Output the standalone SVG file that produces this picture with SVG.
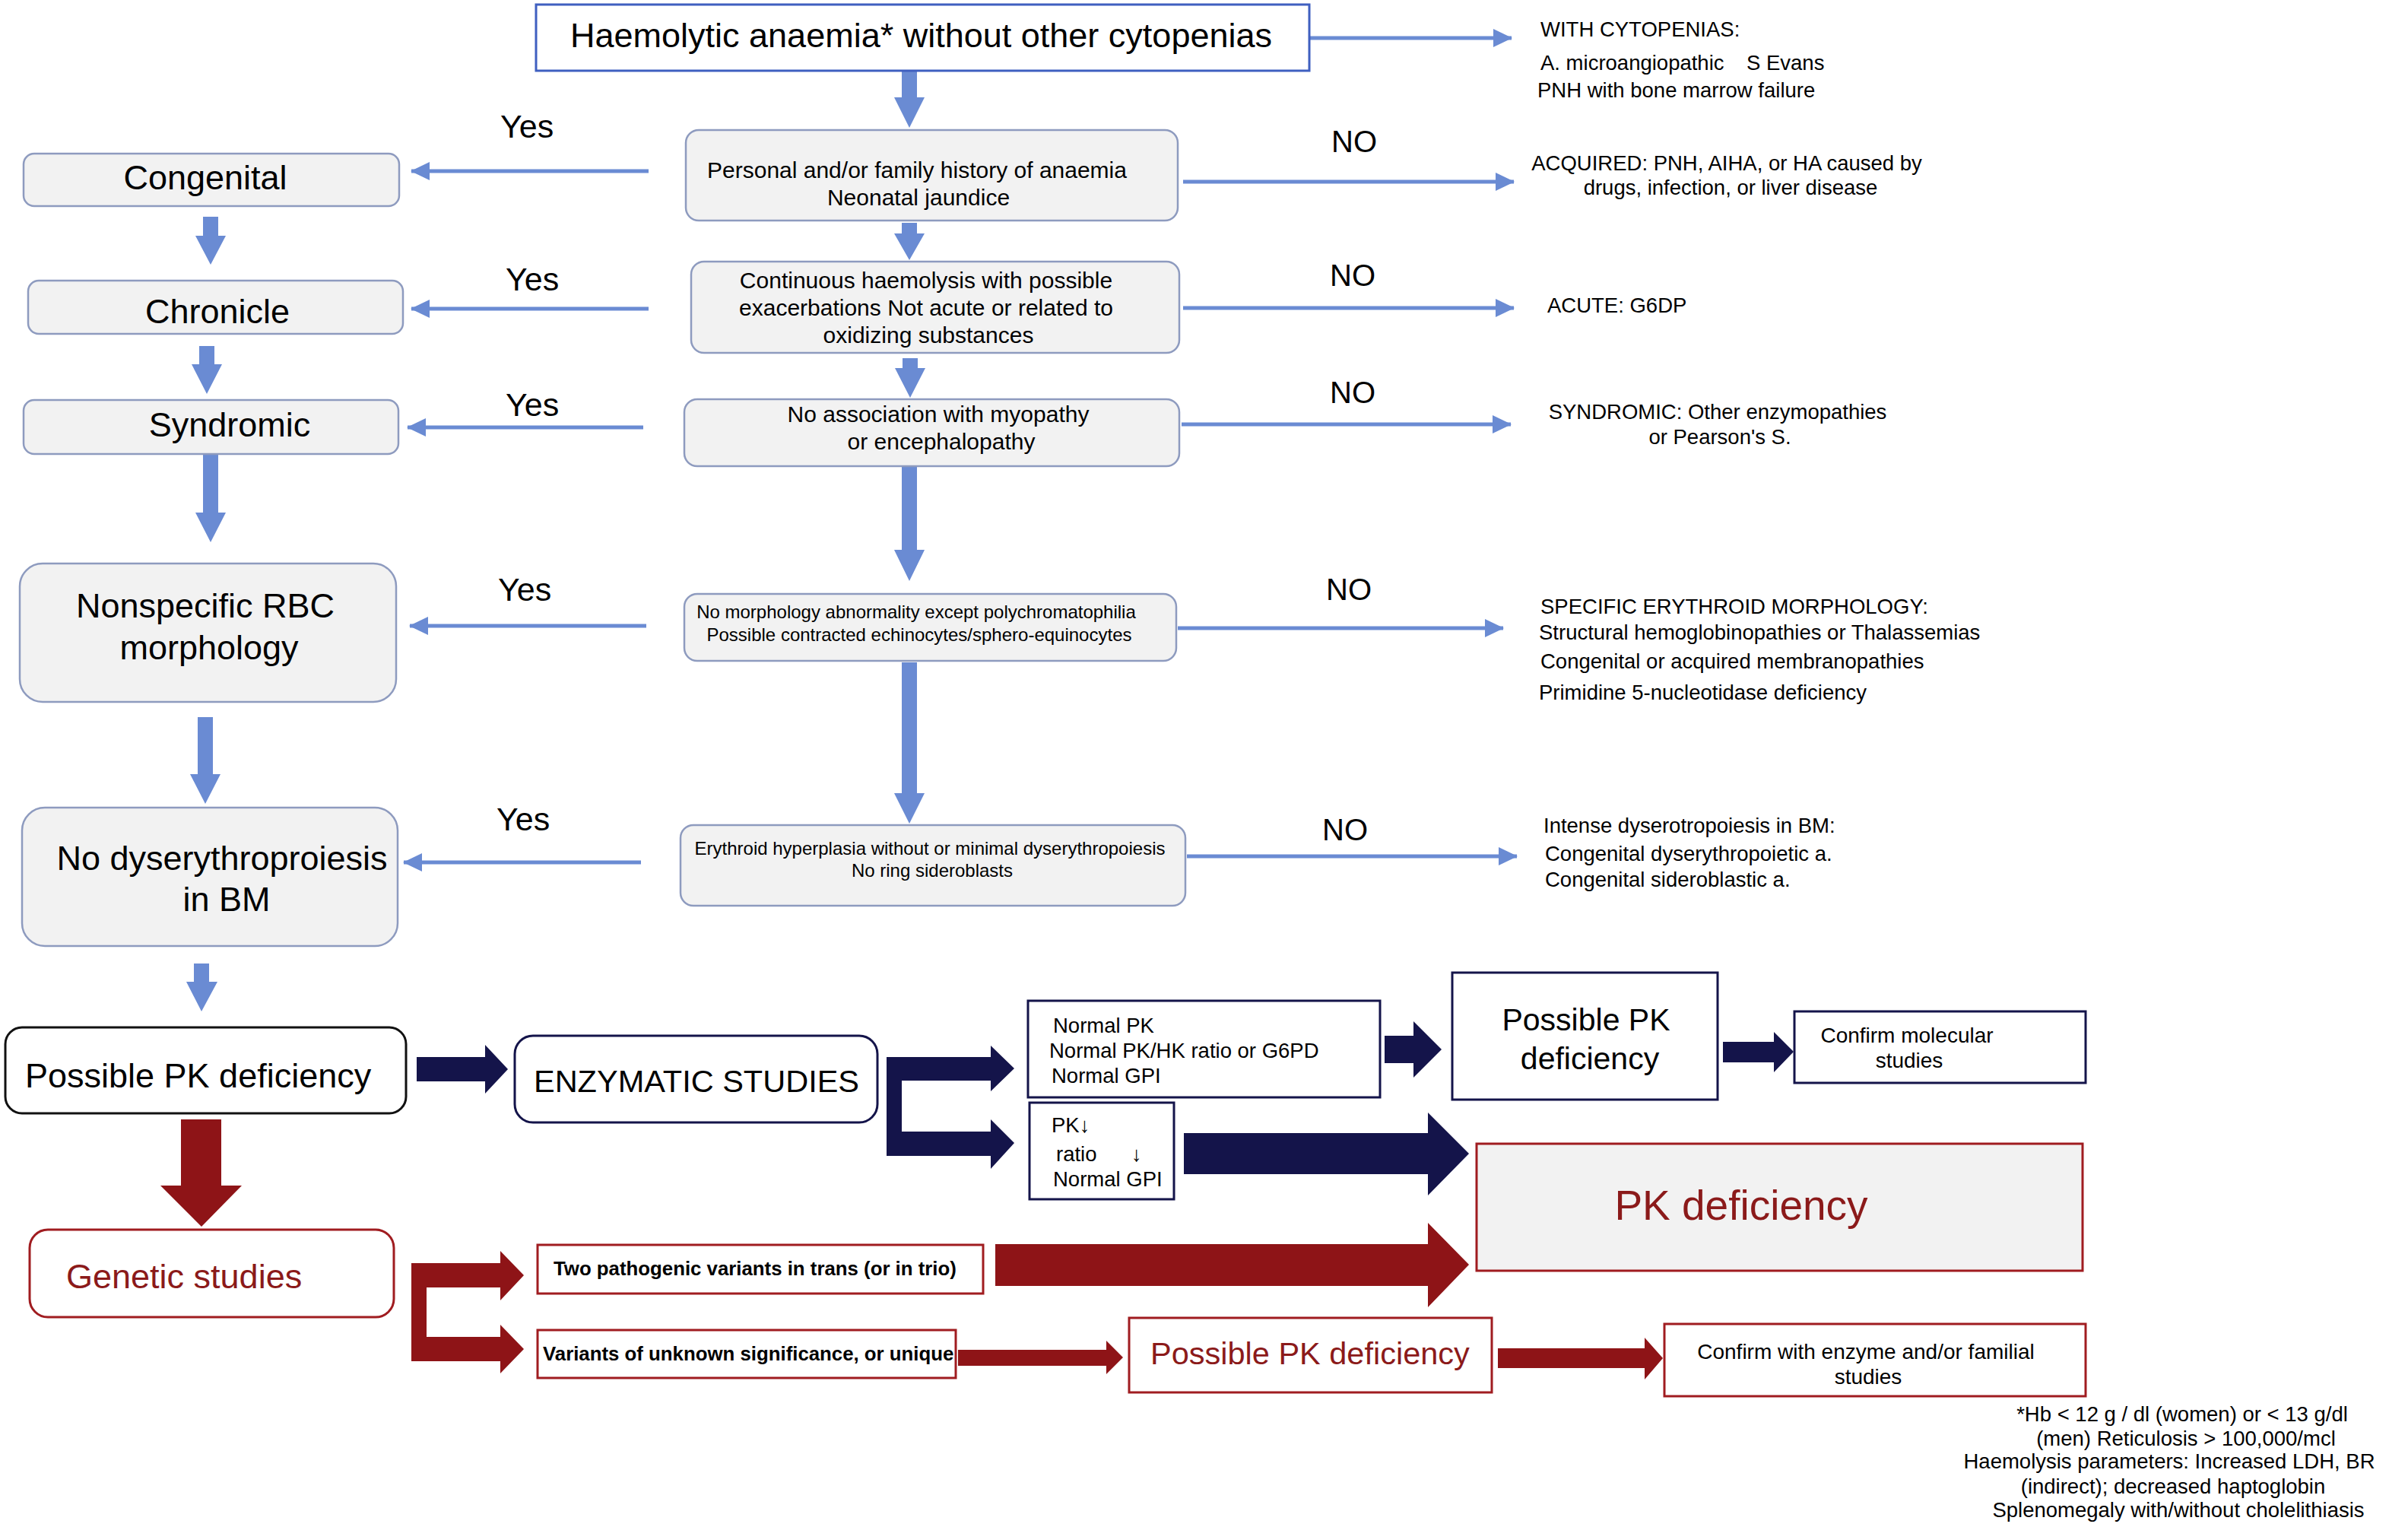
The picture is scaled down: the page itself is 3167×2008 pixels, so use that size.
<svg xmlns="http://www.w3.org/2000/svg" width="3167" height="2008" viewBox="0 0 3167 2008">
<style>
text{font-family:"Liberation Sans",Arial,sans-serif;fill:#000}
.big{font-size:45px}
.mid{font-size:30px}
.sm{font-size:24px}
.rt{font-size:27.5px}
.yes{font-size:43px}
.no{font-size:40px}
.bold{font-size:25.8px;font-weight:bold}
.red{fill:#8b1a1a}
.c{text-anchor:middle}
.gbox{fill:#f2f2f2;stroke:#8e9bbf;stroke-width:2.5}
.nbox{fill:#fff;stroke:#14144a;stroke-width:3}
.rbox{fill:#fff;stroke:#a01c20;stroke-width:3}
.bl{stroke:#6a8bd3;stroke-width:5;fill:none}
.blf{fill:#6a8bd3}
.nv{fill:#14144a}
.rd{fill:#8e1417}
</style>
<defs>
<marker id="ah" markerUnits="userSpaceOnUse" markerWidth="26" markerHeight="26" viewBox="0 0 26 26" refX="24" refY="13" orient="auto">
<path d="M0,1 L25,13 L0,25 Z" fill="#6a8bd3"/>
</marker>
</defs>

<g id="connectors">
<!-- thin right arrows -->
<line class="bl" x1="1722" y1="50" x2="1988" y2="50" marker-end="url(#ah)"/>
<line class="bl" x1="1556" y1="239" x2="1991" y2="239" marker-end="url(#ah)"/>
<line class="bl" x1="1556" y1="405" x2="1991" y2="405" marker-end="url(#ah)"/>
<line class="bl" x1="1554" y1="558" x2="1987" y2="558" marker-end="url(#ah)"/>
<line class="bl" x1="1549" y1="826" x2="1977" y2="826" marker-end="url(#ah)"/>
<line class="bl" x1="1561" y1="1126" x2="1995" y2="1126" marker-end="url(#ah)"/>
<!-- thin left arrows -->
<line class="bl" x1="853" y1="225" x2="541" y2="225" marker-end="url(#ah)"/>
<line class="bl" x1="853" y1="406" x2="541" y2="406" marker-end="url(#ah)"/>
<line class="bl" x1="846" y1="562" x2="536" y2="562" marker-end="url(#ah)"/>
<line class="bl" x1="850" y1="823" x2="539" y2="823" marker-end="url(#ah)"/>
<line class="bl" x1="843" y1="1134" x2="531" y2="1134" marker-end="url(#ah)"/>
<!-- thick blue down arrows -->
<path class="blf" d="M1186,94 L1206,94 L1206,128 L1216,128 L1196,168 L1176,128 L1186,128 Z"/>
<path class="blf" d="M1186,293 L1206,293 L1206,307 L1216,307 L1196,342 L1176,307 L1186,307 Z"/>
<path class="blf" d="M1187,471 L1207,471 L1207,484 L1217,484 L1197,523 L1177,484 L1187,484 Z"/>
<path class="blf" d="M1186,613 L1206,613 L1206,723 L1216,723 L1196,764 L1176,723 L1186,723 Z"/>
<path class="blf" d="M1186,871 L1206,871 L1206,1043 L1216,1043 L1196,1083 L1176,1043 L1186,1043 Z"/>
<path class="blf" d="M267,285 L287,285 L287,310 L297,310 L277,348 L257,310 L267,310 Z"/>
<path class="blf" d="M262,455 L282,455 L282,479 L292,479 L272,518 L252,479 L262,479 Z"/>
<path class="blf" d="M267,597 L287,597 L287,674 L297,674 L277,713 L257,674 L267,674 Z"/>
<path class="blf" d="M260,943 L280,943 L280,1018 L290,1018 L270,1057 L250,1018 L260,1018 Z"/>
<path class="blf" d="M255,1267 L275,1267 L275,1291 L286,1291 L265,1330 L245,1291 L255,1291 Z"/>
<!-- navy block arrows -->
<path class="nv" d="M548,1390 L638,1390 L638,1374 L668,1406 L638,1438 L638,1422 L548,1422 Z"/>
<path class="nv" d="M1166,1390 L1303,1390 L1303,1375 L1334,1405 L1303,1435 L1303,1421 L1186,1421 L1186,1488 L1303,1488 L1303,1472 L1334,1503 L1303,1537 L1303,1520 L1166,1520 Z"/>
<path class="nv" d="M1821,1362 L1859,1362 L1859,1343 L1896,1380 L1859,1417 L1859,1398 L1821,1398 Z"/>
<path class="nv" d="M2266,1370 L2333,1370 L2333,1357 L2359,1383 L2333,1410 L2333,1397 L2266,1397 Z"/>
<path class="nv" d="M1557,1490 L1878,1490 L1878,1463 L1932,1517 L1878,1572 L1878,1544 L1557,1544 Z"/>
<!-- red block arrows -->
<path class="rd" d="M238,1472 L291,1472 L291,1559 L318,1559 L265,1613 L211,1559 L238,1559 Z"/>
<path class="rd" d="M541,1661 L658,1661 L658,1645 L689,1677 L658,1710 L658,1693 L561,1693 L561,1758 L658,1758 L658,1742 L689,1774 L658,1806 L658,1790 L541,1790 Z"/>
<path class="rd" d="M1309,1636 L1878,1636 L1878,1608 L1932,1663 L1878,1719 L1878,1691 L1309,1691 Z"/>
<path class="rd" d="M1260,1775 L1455,1775 L1455,1763 L1477,1785 L1455,1807 L1455,1796 L1260,1796 Z"/>
<path class="rd" d="M1970,1773 L2163,1773 L2163,1759 L2187,1786 L2163,1814 L2163,1799 L1970,1799 Z"/>
</g>

<g id="n-top">
<rect x="705" y="6" width="1017" height="87" fill="#fff" stroke="#3f5fc0" stroke-width="3"/>
<text class="big" x="750" y="62">Haemolytic anaemia* without other cytopenias</text>
</g>

<g id="n-personal">
<rect class="gbox" x="902" y="171" width="647" height="119" rx="17"/>
<text class="mid c" x="1206" y="234">Personal and/or family history of anaemia</text>
<text class="mid c" x="1208" y="270">Neonatal jaundice</text>
</g>

<g id="n-continuous">
<rect class="gbox" x="909" y="344" width="642" height="120" rx="17"/>
<text class="mid c" x="1218" y="379">Continuous haemolysis with possible</text>
<text class="mid c" x="1218" y="415">exacerbations Not acute or related to</text>
<text class="mid c" x="1221" y="451">oxidizing substances</text>
</g>

<g id="n-noassoc">
<rect class="gbox" x="900" y="525" width="651" height="88" rx="17"/>
<text class="mid c" x="1234" y="555">No association with myopathy</text>
<text class="mid c" x="1238" y="591">or encephalopathy</text>
</g>

<g id="n-nomorph">
<rect class="gbox" x="900" y="781" width="647" height="88" rx="17"/>
<text class="sm c" x="1205" y="813">No morphology abnormality except polychromatophilia</text>
<text class="sm c" x="1209" y="843">Possible contracted echinocytes/sphero-equinocytes</text>
</g>

<g id="n-erythroid">
<rect class="gbox" x="895" y="1085" width="664" height="106" rx="17"/>
<text class="sm c" x="1223" y="1124">Erythroid hyperplasia without or minimal dyserythropoiesis</text>
<text class="sm c" x="1226" y="1153">No ring sideroblasts</text>
</g>

<g id="n-congenital">
<rect class="gbox" x="31" y="202" width="494" height="69" rx="14"/>
<text class="big c" x="270" y="249">Congenital</text>
</g>

<g id="n-chronicle">
<rect class="gbox" x="37" y="369" width="493" height="70" rx="14"/>
<text class="big c" x="286" y="425">Chronicle</text>
</g>

<g id="n-syndromic">
<rect class="gbox" x="31" y="526" width="493" height="71" rx="14"/>
<text class="big c" x="302" y="574">Syndromic</text>
</g>

<g id="n-nonspecific">
<rect class="gbox" x="26" y="741" width="495" height="182" rx="30"/>
<text class="big c" x="270" y="812">Nonspecific RBC</text>
<text class="big c" x="275" y="867">morphology</text>
</g>

<g id="n-nodys">
<rect class="gbox" x="29" y="1062" width="494" height="182" rx="30"/>
<text class="big c" x="292" y="1144">No dyserythroproiesis</text>
<text class="big c" x="298" y="1198">in BM</text>
</g>

<g id="labels-yes">
<text class="yes" x="658" y="181">Yes</text>
<text class="yes" x="665" y="382">Yes</text>
<text class="yes" x="665" y="547">Yes</text>
<text class="yes" x="655" y="790">Yes</text>
<text class="yes" x="653" y="1092">Yes</text>
</g>

<g id="labels-no">
<text class="no" x="1751" y="200">NO</text>
<text class="no" x="1749" y="376">NO</text>
<text class="no" x="1749" y="530">NO</text>
<text class="no" x="1744" y="789">NO</text>
<text class="no" x="1739" y="1105">NO</text>
</g>

<g id="n-cytopenias">
<text class="rt" x="2026" y="48">WITH CYTOPENIAS:</text>
<text class="rt" x="2026" y="92">A. microangiopathic</text>
<text class="rt" x="2297" y="92">S Evans</text>
<text class="rt" x="2022" y="128">PNH with bone marrow failure</text>
</g>

<g id="n-acquired">
<text class="rt c" x="2271" y="224">ACQUIRED: PNH, AIHA, or HA caused by</text>
<text class="rt c" x="2276" y="256">drugs, infection, or liver disease</text>
</g>

<g id="n-acute">
<text class="rt" x="2035" y="411">ACUTE: G6DP</text>
</g>

<g id="n-syndromic-other">
<text class="rt c" x="2259" y="551">SYNDROMIC: Other enzymopathies</text>
<text class="rt c" x="2262" y="584">or Pearson's S.</text>
</g>

<g id="n-specific">
<text class="rt" x="2026" y="807">SPECIFIC ERYTHROID MORPHOLOGY:</text>
<text class="rt" x="2024" y="841">Structural hemoglobinopathies or Thalassemias</text>
<text class="rt" x="2026" y="879">Congenital or acquired membranopathies</text>
<text class="rt" x="2024" y="920">Primidine 5-nucleotidase deficiency</text>
</g>

<g id="n-intense">
<text class="rt" x="2030" y="1095">Intense dyserotropoiesis in BM:</text>
<text class="rt" x="2032" y="1132">Congenital dyserythropoietic a.</text>
<text class="rt" x="2032" y="1166">Congenital sideroblastic a.</text>
</g>

<g id="n-possiblepk">
<rect x="7" y="1351" width="527" height="113" rx="22" fill="#fff" stroke="#111" stroke-width="3"/>
<text class="big" x="33" y="1430">Possible PK deficiency</text>
</g>

<g id="n-enzymatic">
<rect class="nbox" x="677" y="1362" width="477" height="114" rx="24"/>
<text class="c" x="916" y="1436" style="font-size:41.5px">ENZYMATIC STUDIES</text>
</g>

<g id="n-normalpk">
<rect class="nbox" x="1352" y="1316" width="463" height="127"/>
<text class="rt" x="1385" y="1358">Normal PK</text>
<text class="rt" x="1380" y="1391">Normal PK/HK ratio or G6PD</text>
<text class="rt" x="1383" y="1424">Normal GPI</text>
</g>

<g id="n-pkdown">
<rect class="nbox" x="1354" y="1450" width="190" height="127"/>
<text class="rt" x="1383" y="1489">PK↓</text>
<text class="rt" x="1389" y="1527">ratio</text>
<text class="rt" x="1488" y="1527">↓</text>
<text class="rt" x="1385" y="1560">Normal GPI</text>
</g>

<g id="n-possiblepk-navy">
<rect class="nbox" x="1910" y="1279" width="349" height="167"/>
<text class="c" x="2086" y="1355" style="font-size:41px">Possible PK</text>
<text class="c" x="2091" y="1406" style="font-size:41px">deficiency</text>
</g>

<g id="n-confirm-molecular">
<rect class="nbox" x="2360" y="1330" width="383" height="94"/>
<text class="c" x="2508" y="1371" style="font-size:28px">Confirm molecular</text>
<text class="c" x="2511" y="1404" style="font-size:28px">studies</text>
</g>

<g id="n-pkdef">
<rect x="1942" y="1504" width="797" height="167" fill="#f2f2f2" stroke="#a01c20" stroke-width="3"/>
<text class="red c" x="2290" y="1604" style="font-size:55px">PK deficiency</text>
</g>

<g id="n-genetic">
<rect class="rbox" x="39" y="1617" width="479" height="115" rx="24"/>
<text class="big red" x="87" y="1694">Genetic studies</text>
</g>

<g id="n-twopath">
<rect class="rbox" x="707" y="1637" width="586" height="64"/>
<text class="bold" x="728" y="1677">Two pathogenic variants in trans (or in trio)</text>
</g>

<g id="n-variants">
<rect class="rbox" x="707" y="1749" width="550" height="63"/>
<text class="bold" x="714" y="1789">Variants of unknown significance, or unique</text>
</g>

<g id="n-possiblepk-red">
<rect class="rbox" x="1485" y="1733" width="477" height="98"/>
<text class="red" x="1513" y="1794" style="font-size:41.5px">Possible PK deficiency</text>
</g>

<g id="n-confirm-enzyme">
<rect class="rbox" x="2189" y="1741" width="554" height="95"/>
<text class="c" x="2454" y="1787" style="font-size:28px">Confirm with enzyme and/or familial</text>
<text class="c" x="2457" y="1820" style="font-size:28px">studies</text>
</g>

<g id="footnote">
<text class="rt c" x="2870" y="1869">*Hb &lt; 12 g / dl (women) or &lt; 13 g/dl</text>
<text class="rt c" x="2875" y="1901">(men) Reticulosis &gt; 100,000/mcl</text>
<text class="rt c" x="2853" y="1931">Haemolysis parameters: Increased LDH, BR</text>
<text class="rt c" x="2858" y="1964">(indirect); decreased haptoglobin</text>
<text class="rt c" x="2865" y="1995">Splenomegaly with/without cholelithiasis</text>
</g>
</svg>
